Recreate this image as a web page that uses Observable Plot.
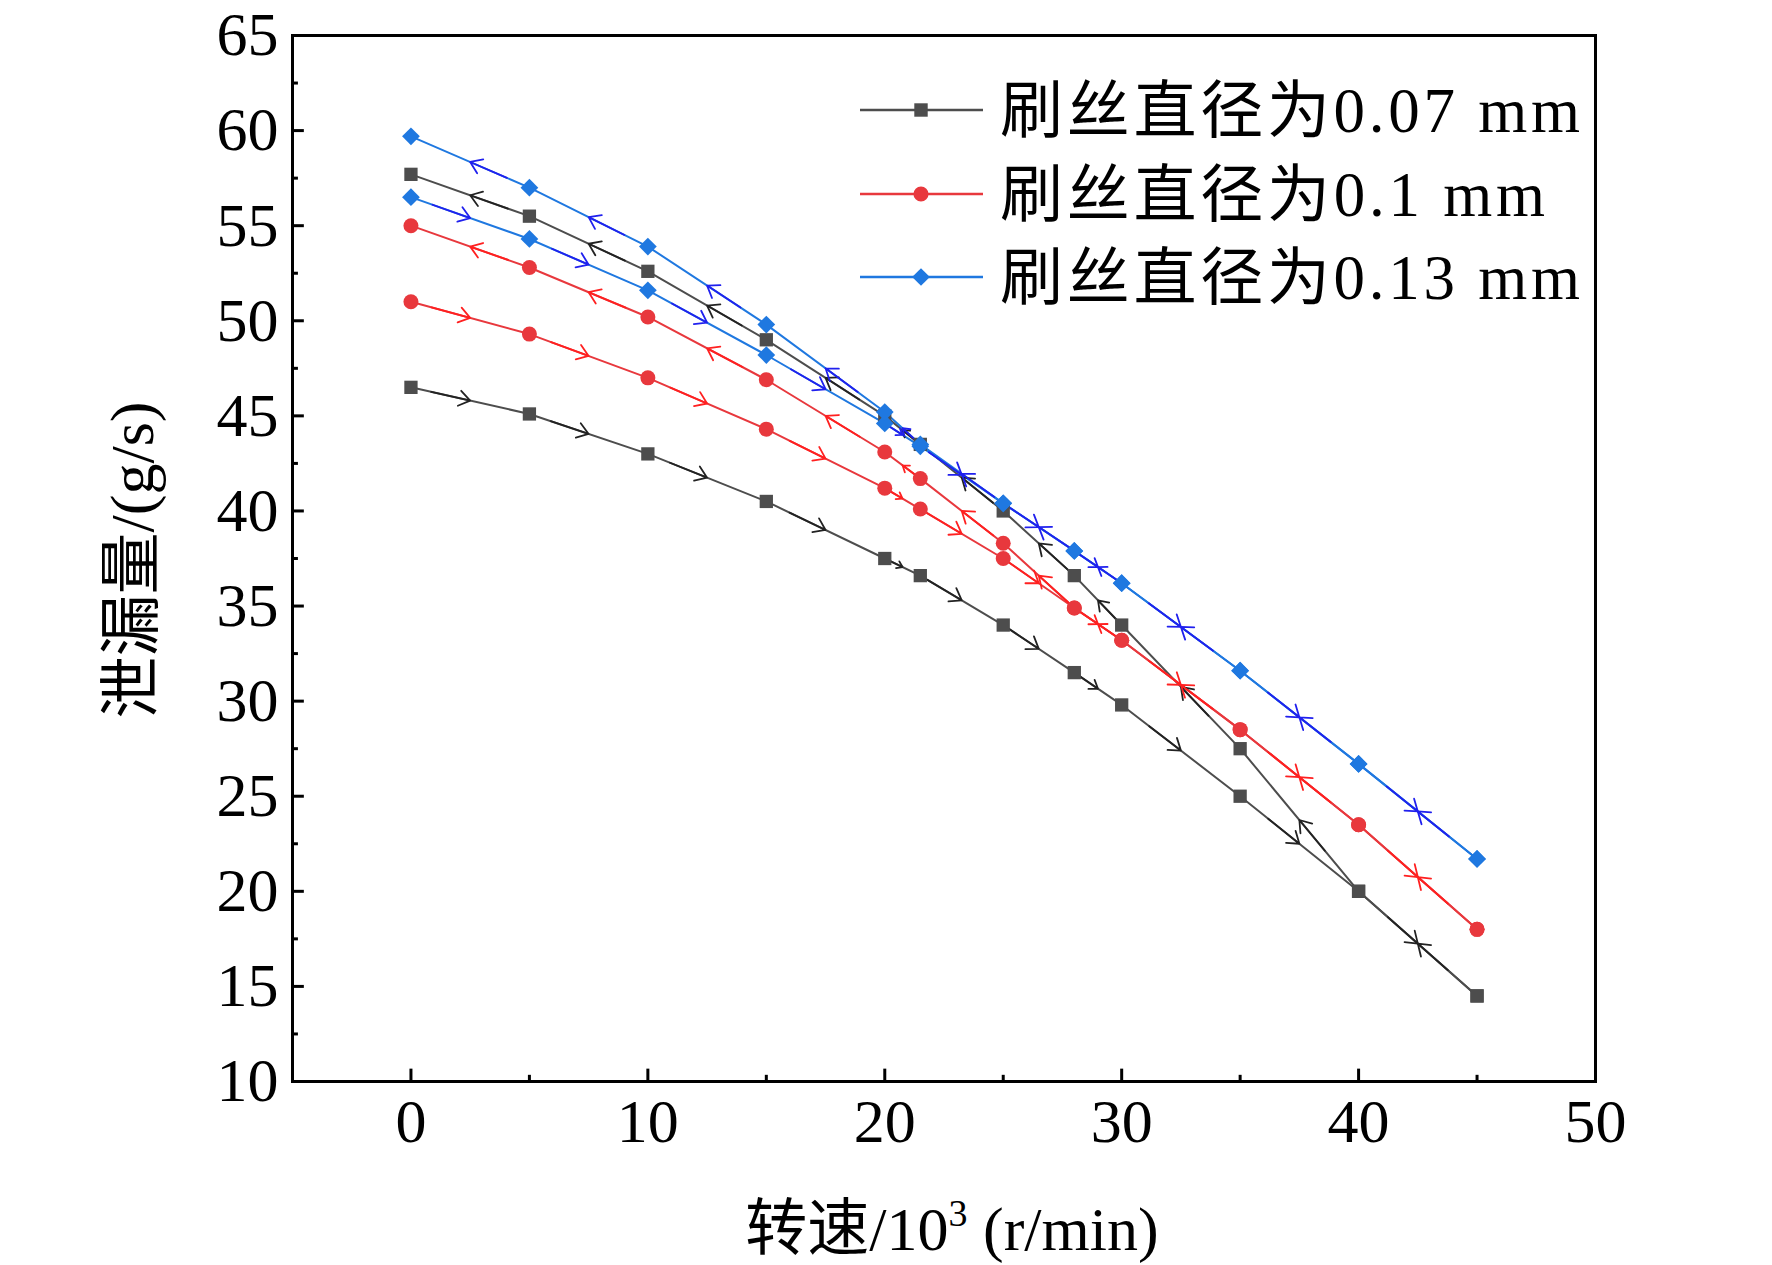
<!DOCTYPE html>
<html><head><meta charset="utf-8">
<script src="https://cdn.jsdelivr.net/npm/d3@7"></script>
<script src="https://cdn.jsdelivr.net/npm/@observablehq/plot@0.6"></script>
<style>
body{margin:0;background:#fff;}
#wrap{position:relative;width:1772px;height:1265px;}
</style></head>
<body><div id="wrap"></div>
<script>
const speeds = [0,5,10,15,20,21.5,25,28,30,35,40,45];
// increasing-speed branch (arrows to the right)
const up007 = [46.5,45.1,43.0,40.5,37.5,36.6,34.0,31.5,29.8,25.0,20.0,14.5];
const up010 = [51.0,49.3,47.0,44.3,41.2,40.1,37.5,34.9,33.2,28.5,23.5,18.0];
const up013 = [56.5,54.3,51.6,48.2,44.6,43.4,40.4,37.9,36.2,31.6,26.7,21.7];
// decreasing-speed branch (arrows to the left)
const dn007 = [57.7,55.5,52.6,49.0,45.0,43.5,40.0,36.6,34.0,27.5,20.0,14.5];
const dn010 = [55.0,52.8,50.2,46.9,43.1,41.7,38.3,34.9,33.2,28.5,23.5,18.0];
const dn013 = [59.7,57.0,53.9,49.8,45.2,43.5,40.4,37.9,36.2,31.6,26.7,21.7];
const names = ["刷丝直径为0.07 mm","刷丝直径为0.1 mm","刷丝直径为0.13 mm"];
const colors = ["#4d4d4d","#e8383d","#1f78e0"];
const arrowColors = ["#222222","#ff2020","#2020ee"];
const symbols = ["square","circle","diamond2"];
const xTicks = [0,10,20,30,40,50];
const yTicks = [10,15,20,25,30,35,40,45,50,55,60,65];

const W=1772,H=1265,mL=292,mR=177,mT=35,mB=184;
const pxX=(W-mL-mR)/55, pxY=(H-mT-mB)/55;
const series = [[up007,dn007],[up010,dn010],[up013,dn013]];
const pts = [], segs = [];
series.forEach(([u,d],k)=>{
  [u,d].forEach((arr,b)=>{
    speeds.forEach((s,i)=>pts.push({x:s,y:arr[i],k,b}));
    for(let i=0;i<speeds.length-1;i++){
      const a={x:speeds[i],y:arr[i]}, c={x:speeds[i+1],y:arr[i+1]};
      const mx=(a.x+c.x)/2, my=(a.y+c.y)/2;
      const from = b===0 ? a : c;
      const dx=(mx-from.x)*pxX, dy=(my-from.y)*pxY, L=Math.hypot(dx,dy);
      const f = Math.min(1, 40/L);
      segs.push({x1:mx-(mx-from.x)*f,y1:my-(my-from.y)*f,x2:mx,y2:my,k});
    }
  });
});
const minorY = d3.range(12.5,65,5);
const minorX = d3.range(-5,50,5).filter(v=>v%10!==0);
const tx=0.5, ty=0.65;
const plot = Plot.plot({
  width:W,height:H,marginLeft:mL,marginRight:mR,marginTop:mT,marginBottom:mB,
  x:{domain:[-5,50]}, y:{domain:[10,65]},
  style:{fontFamily:"Liberation Serif",fontSize:"62px",color:"#000"},
  marks:[
    Plot.frame({stroke:"#000",strokeWidth:3}),
    Plot.axisX(xTicks,{tickSize:0,tickPadding:16,fontSize:62}),
    Plot.axisY(yTicks,{tickSize:0,tickPadding:14,fontSize:62}),
    Plot.ruleY(yTicks,{y:d=>d,x1:-5,x2:-5+tx,stroke:"#000",strokeWidth:3}),
    Plot.ruleY(minorY,{y:d=>d,x1:-5,x2:-5+tx/2,stroke:"#000",strokeWidth:3}),
    Plot.ruleX(xTicks,{x:d=>d,y1:10,y2:10+ty,stroke:"#000",strokeWidth:3}),
    Plot.ruleX(minorX,{x:d=>d,y1:10,y2:10+ty/2,stroke:"#000",strokeWidth:3}),
    ...[0,1,2].flatMap(k=>[0,1].map(b=>Plot.line(pts.filter(p=>p.k===k&&p.b===b),{x:"x",y:"y",stroke:colors[k],strokeWidth:2}))),
    Plot.arrow(segs,{x1:"x1",y1:"y1",x2:"x2",y2:"y2",stroke:d=>arrowColors[d.k],strokeWidth:1.8,headLength:16,headAngle:70,bend:0}),
    ...[0,1,2].map(k=>Plot.dot(pts.filter(p=>p.k===k),{x:"x",y:"y",symbol:()=>symbols[k],fill:colors[k],r:k===2?8:7.5})),
  ]
});
plot.style.position="absolute";plot.style.left="0";plot.style.top="0";
const wrap=document.getElementById("wrap");
wrap.appendChild(plot);
const ff='"Liberation Serif","Noto Sans CJK SC",serif';
const leg = d3.select(wrap).append("svg").attr("width",W).attr("height",H)
  .style("position","absolute").style("left","0").style("top","0");
const ly=[110,194,277];
names.forEach((n,k)=>{
  leg.append("line").attr("x1",860).attr("x2",983).attr("y1",ly[k]).attr("y2",ly[k]).attr("stroke",colors[k]).attr("stroke-width",2.5);
  leg.append("path").attr("d",d3.symbol(k===0?d3.symbolSquare:k===1?d3.symbolCircle:d3.symbolDiamond2,k===2?200:180)())
    .attr("transform",`translate(921,${ly[k]})`).attr("fill",colors[k]);
  leg.append("text").attr("x",1000).attr("y",ly[k]+22).attr("font-size",63)
    .attr("font-family",ff).attr("textLength",k===1?545:580).text(n);
});
leg.append("text").attr("x",952).attr("y",1250).attr("text-anchor","middle").attr("font-size",62)
  .attr("font-family",ff)
  .html('转速/10<tspan font-size="38" dy="-24">3</tspan><tspan dy="24"> (r/min)</tspan>');
leg.append("text").attr("transform","translate(153,560) rotate(-90)").attr("text-anchor","middle").attr("font-size",62)
  .attr("font-family",ff).text("泄漏量/(g/s)");
</script></body></html>
